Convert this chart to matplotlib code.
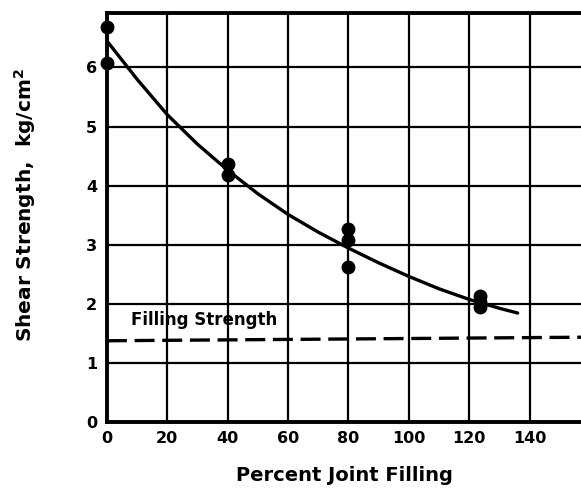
import matplotlib.pyplot as plt

# measured points (percent joint filling, shear strength kg/cm2)
pointsX = [0, 0, 40, 40, 80, 80, 80, 123.6, 123.6, 123.6]
pointsY = [6.68, 6.08, 4.37, 4.18, 3.27, 3.08, 2.62, 2.13, 2.03, 1.95]

# fitted curve
curveX = [0, 10, 20, 30, 40, 50, 60, 70, 80, 90, 100, 110, 120, 130, 136]
curveY = [6.45, 5.80, 5.20, 4.70, 4.26, 3.86, 3.51, 3.21, 2.94, 2.69, 2.46, 2.25, 2.07, 1.92, 1.84]

# filling strength line
fillX = [0, 157]
fillY = [1.37, 1.43]

xTicks = [0, 20, 40, 60, 80, 100, 120, 140]
yTicks = [0, 1, 2, 3, 4, 5, 6]

plt.rcParams['font.family'] = 'DejaVu Sans'
plt.rcParams['font.weight'] = 'bold'

fig = plt.figure(figsize=(5.81, 4.88), dpi=100)
ax = fig.add_axes([0.184, 0.136, 0.816, 0.837])

ax.set_xlim(0, 157)
ax.set_ylim(0, 6.92)
ax.set_xticks(xTicks)
ax.set_yticks(yTicks)
ax.tick_params(length=0, labelsize=11.5, pad=7)
for lab in ax.get_xticklabels() + ax.get_yticklabels():
    lab.set_fontweight('bold')

ax.grid(True, color='black', linewidth=1.6)
ax.set_axisbelow(True)
for side in ['left', 'bottom', 'top']:
    ax.spines[side].set_linewidth(2.8)
ax.spines['right'].set_visible(False)

ax.plot(curveX, curveY, color='black', linewidth=2.4, solid_joinstyle='round',
        solid_capstyle='round', zorder=3)
ax.plot(pointsX, pointsY, 'o', color='black', markersize=9, clip_on=False, zorder=4)
ax.plot(fillX, fillY, color='black', linewidth=2.4, dashes=(6, 2.3), zorder=3)

ax.text(8, 1.72, 'Filling Strength', fontsize=12, fontweight='bold', va='center')

ax.set_xlabel('Percent Joint Filling', fontsize=14, fontweight='bold', labelpad=14)
ax.set_ylabel(r'Shear Strength,  kg/cm$^{\mathbf{2}}$', fontsize=14.5, fontweight='bold')
ax.yaxis.set_label_coords(-0.145, 0.53)

fig.savefig('out.png', dpi=100)
